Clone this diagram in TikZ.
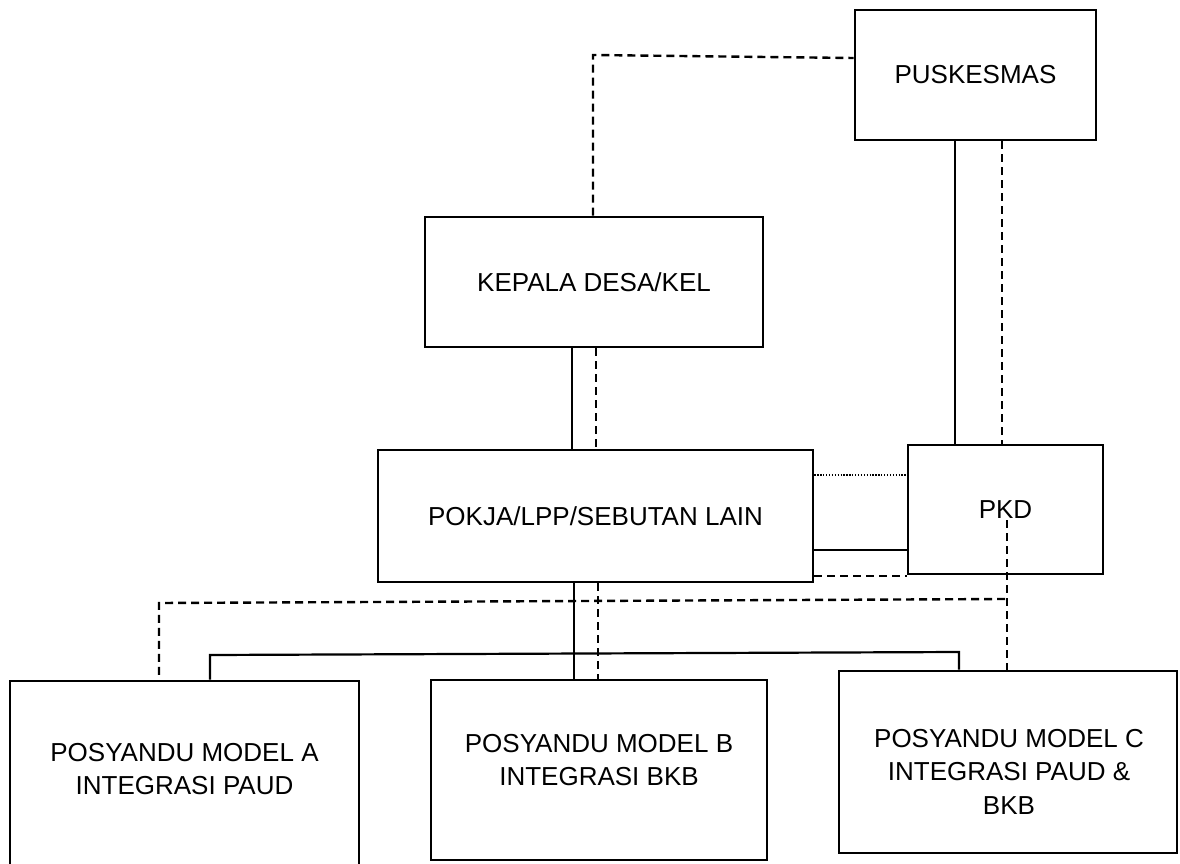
\documentclass[tikz,border=0pt]{standalone}
\usepackage{fontspec}
\setmainfont{Liberation Sans}
\begin{document}
\begin{tikzpicture}[x=1pt,y=-1pt,
  box/.style={draw, line width=2.9pt, inner sep=0pt, align=center, font=\fontsize{26}{33}\selectfont},
  lbl/.style={inner sep=0pt, align=center, font=\fontsize{26}{33.5}\selectfont},
  solidc/.style={line width=2.2pt},
  dashc/.style={line width=2.4pt, dash pattern=on 8pt off 5pt},
  dotc/.style={line width=1.5pt, dash pattern=on 1.3pt off 1.6pt}]
\useasboundingbox (0,0) rectangle (1180,864);
\clip (0,0) rectangle (1180,864);
% boxes
\node[box, minimum width=241pt, minimum height=130pt] (pus) at (975.5,75) {PUSKESMAS};
\node[box, minimum width=338pt, minimum height=130pt] (kep) at (594,282) {KEPALA DESA/KEL};
\node[box, minimum width=435pt, minimum height=132pt] (pok) at (595.5,516) {POKJA/LPP/SEBUTAN LAIN};
\node[box, minimum width=195pt, minimum height=129pt] (pkd) at (1005.5,509.5) {PKD};
\node[box, minimum width=349pt, minimum height=199pt] (ma) at (184.5,780.5) {};
\node[box, minimum width=336pt, minimum height=180pt] (mb) at (599,770) {};
\node[box, minimum width=338pt, minimum height=182pt] (mc) at (1008,762) {};
% box texts
\node[lbl, anchor=north] (ta) at (184.5,743) {POSYANDU MODEL A\\INTEGRASI PAUD};
\node[lbl, anchor=north] (tb) at (599,734) {POSYANDU MODEL B\\INTEGRASI BKB};
\node[lbl, anchor=north] (tc) at (1009,729) {POSYANDU MODEL C\\INTEGRASI PAUD \&\\BKB};
% coordinates
\coordinate (pkdin) at (1007,520);
\coordinate (hd) at (1005,599);
% connectors
\draw[dashc] (593,0 |- kep.north) -- (593,55) -- (pus.west |- 0,58);
\draw[solidc] (955,0 |- pus.south) -- (955,0 |- pkd.north);
\draw[dashc] (1002,0 |- pus.south) -- (1002,0 |- pkd.north);
\draw[solidc] (572,0 |- kep.south) -- (572,0 |- pok.north);
\draw[dashc] (596,0 |- kep.south) -- (596,0 |- pok.north);
\draw[dotc] (pok.east |- 0,475) -- (pkd.west |- 0,475);
\draw[solidc] (pok.east |- 0,550) -- (pkd.west |- 0,550);
\draw[dashc] (pok.east |- 0,576) -- (pkd.west |- 0,576);
\draw[dashc] (pkdin) -- (pkdin |- mc.north);
\draw[dashc] (hd) -- (159,603) -- (159,0 |- ma.north);
\draw[solidc] (574,0 |- pok.south) -- (574,0 |- mb.north);
\draw[dashc] (598,0 |- pok.south) -- (598,0 |- mb.north);
\draw[solidc] (210,0 |- ma.north) -- (210,655) -- (959,652) -- (959,0 |- mc.north);
\end{tikzpicture}
\end{document}
